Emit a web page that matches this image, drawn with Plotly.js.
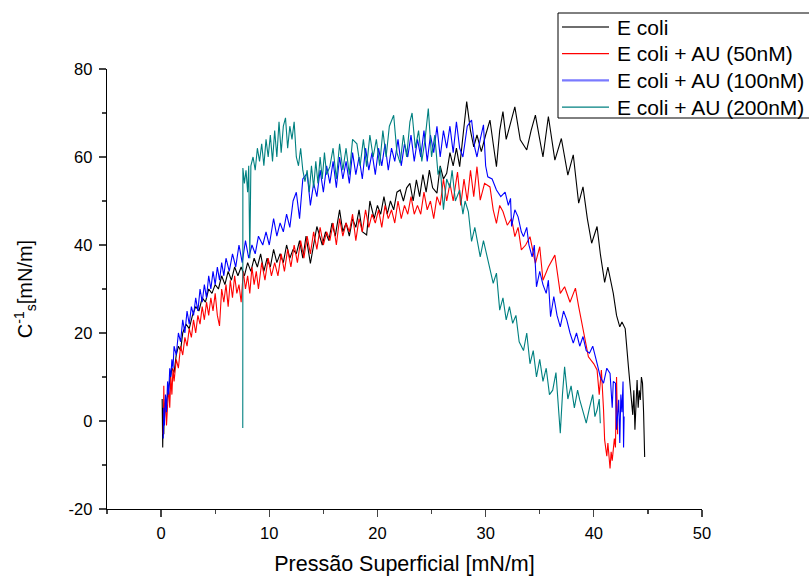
<!DOCTYPE html>
<html>
<head>
<meta charset="utf-8">
<script src="https://cdn.plot.ly/plotly-3.0.1.min.js"></script>
<style>html,body{margin:0;padding:0;background:#fff;}#chart{width:809px;height:576px;}</style>
</head>
<body>
<div id="chart"></div>
<script>
// ---- Data ----
const seriesNames = ["E coli", "E coli + AU (50nM)", "E coli + AU (100nM)", "E coli + AU (200nM)"];
const seriesColors = ["#000000", "#ff0000", "#0000ff", "#008080"];

const ecoliX = [0.1,0.15,0.2,0.25,0.3,0.4,0.6,0.8,1.0,1.2,1.4,1.6,1.8,2.0,2.3,2.6,2.9,3.2,3.5,3.8,4.1,4.4,4.7,5.0,5.3,5.6,5.9,6.2,6.5,6.8,7.1,7.4,7.7,8.0,8.3,8.6,8.9,9.2,9.5,9.8,10.1,10.4,10.7,11.0,11.3,11.6,11.9,12.2,12.5,12.8,13.1,13.4,13.8,14.4,14.9,15.2,15.5,15.8,16.1,16.5,16.8,17.1,17.4,17.7,18.0,18.3,18.6,19.0,19.3,19.7,20.0,20.3,20.6,20.9,21.2,21.5,21.8,22.1,22.4,22.7,23.0,23.3,23.6,23.9,24.2,24.5,24.8,25.1,25.5,25.8,26.1,26.4,26.7,27.0,27.3,27.6,27.9,28.25,28.6,28.9,29.2,29.6,30.0,30.4,30.7,31.0,31.3,31.6,31.9,32.2,32.7,33.2,33.8,34.2,34.6,35.0,35.3,35.8,36.1,36.4,37.0,37.6,38.1,38.6,39.0,39.4,39.8,40.3,40.6,41.0,41.3,41.8,42.1,42.4,42.6,42.9,43.2,43.4,43.6,43.7,43.8,44.0,44.1,44.2,44.3,44.4,44.5,44.6,44.7];
const ecoliY = [5,-6,3,-3,4,2,6,9,12,11,15,17,16,20,22,21,24,26,25,28,27,30,29,31,30,33,31,34,32,35,33,35,33,36,34,37,35,38,34,37,35,39,36,38,36,40,37,39,38,41,37,42,35.8,44.2,40,43,41,45,42,48,43,45,42,46,44,48,43,42.3,50,46,49,47,51,47,50,48,52,52.5,50,53,54,50,54.8,51,56,52,57,53,51.8,58,55,56.3,61,58,62,57.8,64,72.6,66,62.3,65,61.2,65,68.4,63,57.8,66,70.3,64,67,71.4,63.9,61.6,66,69.5,64,60,69.2,64,59.3,64.2,55.9,60.5,49.5,53.2,46,40.4,44.2,38,31.5,35,29,24,21.4,22.5,21,12.3,6,1.4,7,-2,9.3,3,7,4.8,10,8.6,2,-8.2];

const au50X = [0.2,0.25,0.3,0.4,0.5,0.6,0.7,0.8,0.9,1.0,1.1,1.2,1.4,1.6,1.8,2.0,2.2,2.4,2.6,2.8,3.0,3.2,3.4,3.6,3.8,4.0,4.2,4.4,4.6,4.8,5.0,5.2,5.4,5.6,5.8,6.0,6.2,6.4,6.6,6.8,7.0,7.2,7.4,7.6,7.8,8.0,8.2,8.4,8.6,8.8,9.0,9.3,9.6,9.9,10.2,10.5,10.8,11.1,11.4,11.7,12.0,12.3,12.6,12.9,13.2,13.5,13.8,14.1,14.4,14.7,15.0,15.3,15.6,15.9,16.2,16.5,16.8,17.1,17.4,17.7,18.0,18.3,18.6,18.9,19.2,19.5,19.8,20.1,20.4,20.7,21.0,21.3,21.6,21.9,22.2,22.5,22.8,23.1,23.4,23.7,24.0,24.3,24.6,24.9,25.2,25.5,25.8,26.1,26.4,26.7,27.0,27.4,27.7,28.0,28.3,28.6,28.9,29.2,29.5,29.9,30.4,30.7,31.0,31.3,31.6,32.0,32.4,32.7,33.0,33.3,33.7,34.1,34.6,35.0,35.3,35.8,36.4,36.9,37.3,37.8,38.3,38.6,38.9,39.2,39.5,40.0,40.3,40.5,40.7,40.9,41.0,41.2,41.3,41.5,41.6,41.7,41.9,42.0,42.1,42.2];
const au50Y = [-3,8,0,5,-1,4,8,3,10,6,12,9,14,12,17,15,19,17,21,19,23,20,24,22,26,23,27,24,28,25,29,24,21.6,30,27,31,26,32,28,33,29,31,27,34,30,33,29,35,31,34,30,36,32,37,33,36,33,38,34,39,35,40,36,41,37,42,38,43,39,44,40,43,41,45,40,46,42,45,43,47,41,46,43,48,44,47,45,48,44,49,46,48,45,50,46,49,47,51,47,49,47,52,48,50,46,51,49,55,50,54,50,56.6,49,55,50,57,51,57.8,50.2,54,53.2,48,44.9,49,47.6,44.5,46,41.9,44,38.9,40,41.9,35.8,39.6,32,35,37.7,29,30.5,27,30.2,26,22.2,18,14.6,13,11.6,6,11.6,2.5,-4.3,-8,-5,-10.8,-7,-9,-4,-6,10,-3];

const au100X = [0.2,0.25,0.3,0.4,0.5,0.6,0.7,0.8,0.9,1.0,1.1,1.2,1.4,1.6,1.8,2.0,2.2,2.4,2.6,2.8,3.0,3.2,3.4,3.6,3.8,4.0,4.2,4.4,4.6,4.8,5.0,5.2,5.4,5.6,5.8,6.0,6.3,6.6,6.9,7.2,7.5,7.8,8.1,8.4,8.7,9.0,9.4,9.7,10.0,10.4,10.7,11.0,11.3,11.6,11.9,12.2,12.5,12.8,13.1,13.5,13.8,14.1,14.4,14.7,15.0,15.3,15.6,15.9,16.2,16.5,16.8,17.1,17.4,17.7,18.0,18.3,18.6,18.9,19.2,19.5,19.8,20.1,20.4,20.7,21.0,21.3,21.6,21.9,22.2,22.5,22.8,23.1,23.4,23.7,24.0,24.3,24.6,24.9,25.2,25.5,25.8,26.1,26.4,26.7,27.0,27.3,27.6,27.9,28.3,28.7,29.0,29.2,29.5,29.8,30.0,30.2,30.6,31.0,31.4,31.8,32.1,32.3,32.4,32.7,33.0,33.3,33.5,33.8,34.0,34.3,34.5,34.7,35.0,35.3,35.6,35.8,36.0,36.3,36.6,36.9,37.2,37.5,37.8,38.1,38.4,38.7,39.0,39.3,39.6,39.9,40.3,40.6,40.9,41.2,41.5,41.7,41.8,42.0,42.1,42.3,42.4,42.5,42.6,42.7,42.75,42.8];
const au100Y = [-4,3,-1,6,2,9,6,12,10,14,12,17,15,20,18,23,20,25,22,26,24,28,25,30,27,31,28,33,30,34,31,35,32,36,33,37,34,38,35,40,36,41,37,40,38,42,40,43,40,46,42,45,43,47,44,50,52,46,55,56.3,49,54,51,57,52,58,54,59,53,60,55,59,54,61,56,60,55,62,57,61,56,62,58,63,57,62,59,64,58,63,60,65,59,64,60,66,59,65,61,67,60,66,62,67,61,68,62,60,67,68.4,62,60,64,67.3,58,55.5,55,52.5,51,52,49,50.6,44.2,48,46.4,43,41.9,44,40,37.3,40,30.5,34,31,29,32,23.7,28.3,24,21.4,25,23,20,17.7,20,17,19.2,16,15.4,17,13.1,10,8.6,12,10.8,3,9,8.6,-2,4.8,-5,6,2,9,-6,1];

const au200X = [7.55,7.56,7.7,7.85,8.0,8.1,8.2,8.3,8.5,8.7,8.9,9.1,9.3,9.5,9.7,9.9,10.1,10.3,10.5,10.7,10.9,11.1,11.3,11.5,11.7,11.9,12.1,12.3,12.5,12.7,12.9,13.1,13.3,13.5,13.7,13.9,14.1,14.3,14.5,14.7,14.9,15.1,15.3,15.6,15.9,16.2,16.5,16.8,17.1,17.4,17.7,18.1,18.4,18.7,19.0,19.3,19.6,19.9,20.2,20.5,20.8,21.1,21.5,21.8,22.1,22.4,22.7,23.0,23.2,23.5,23.8,24.1,24.4,24.7,25.0,25.3,25.6,25.8,26.1,26.4,26.7,26.9,27.2,27.6,27.9,28.1,28.4,28.7,29.0,29.5,29.8,30.1,30.4,30.7,31.0,31.3,31.6,31.9,32.2,32.5,32.8,33.1,33.5,33.8,34.1,34.4,34.7,35.0,35.3,35.6,35.9,36.2,36.5,36.9,37.1,37.3,37.6,37.9,38.2,38.5,38.7,39.0,39.3,39.6,39.9,40.1,40.3,40.5,40.6];
const au200Y = [-1.6,57.5,54,57,52,58,37,58,60,57,62,59,63,58,64,60,65,59,66,60,68,61,67,68.9,62,67,64,68,60,58,62,57,54.4,57,52,58,53,59,54,60,55,61,56,57.8,62,55,63,57,62,56,64,63,58,64,57.8,65,60,64,58,66,60,67,69.5,61,58.6,65,60,68,70,62,66,59,64,71,60,65,56,57.8,48,55,53,57,50,52.5,47,50,47.6,40.8,44,37.3,41,38,35,31.3,33.6,25.2,28,23,26,22.2,24,18,16,20,13,16,10,14,9,12,6,7,11,-2.8,6,12.3,5,8,3,7,4.8,2,-0.5,3,6,1,2.5,5,-0.5];

const xTickVals = [0,10,20,30,40,50];
const xTickText = ["0","10","20","30","40","50"];
const yTickVals = [-20,0,20,40,60,80];
const yTickText = ["-20","0","20","40","60","80"];

// ---- Chart ----
const W = 809, H = 576;
const M = {l: 107, r: 107, t: 69, b: 67};
const PW = W - M.l - M.r, PH = H - M.t - M.b;
const px2paperX = p => (p - M.l) / PW;
const px2paperY = p => (H - M.b - p) / PH;

const xs = [ecoliX, au50X, au100X, au200X];
const ys = [ecoliY, au50Y, au100Y, au200Y];
const traces = seriesNames.map((name, i) => ({
  type: "scatter", mode: "lines", name: name, showlegend: false,
  x: xs[i], y: ys[i],
  line: {color: seriesColors[i], width: 1.1}
}));

const fontFam = "Liberation Sans, Arial, sans-serif";

// Legend drawn as shapes + annotations (box partly cut at the right edge as in the reference)
const legendSampleColors = ["#6e6e6e", "#ff0000", "#7a7aff", "#008080"];
const legendSampleWidths = [2, 1.2, 2.2, 1.2];
const legBox = {left: 558, top: 13, right: 812, bottom: 118};
const rowY0 = 27, rowStep = 26.7, lineX0 = 562, lineX1 = 609, textX = 615;
const shapes = [{
  type: "rect", xref: "paper", yref: "paper",
  x0: px2paperX(legBox.left), x1: px2paperX(legBox.right),
  y0: px2paperY(legBox.bottom), y1: px2paperY(legBox.top),
  line: {color: "#000", width: 1}, fillcolor: "#fff", layer: "above"
}];
const annotations = [];
seriesNames.forEach((name, i) => {
  const yy = px2paperY(rowY0 + i * rowStep);
  shapes.push({
    type: "line", xref: "paper", yref: "paper",
    x0: px2paperX(lineX0), x1: px2paperX(lineX1), y0: yy, y1: yy,
    line: {color: legendSampleColors[i], width: legendSampleWidths[i]}, layer: "above"
  });
  annotations.push({
    xref: "paper", yref: "paper", x: px2paperX(textX), y: yy,
    xanchor: "left", yanchor: "middle", showarrow: false, text: name,
    font: {family: fontFam, size: 21, color: "#000"}
  });
});

const layout = {
  width: W, height: H,
  margin: {l: M.l, r: M.r, t: M.t, b: M.b, autoexpand: false},
  paper_bgcolor: "#fff", plot_bgcolor: "#fff",
  font: {family: fontFam, color: "#000", size: 16},
  showlegend: false,
  shapes: shapes, annotations: annotations,
  xaxis: {
    range: [-5, 50], tickvals: xTickVals, ticktext: xTickText,
    ticks: "outside", ticklen: 7, tickwidth: 1.2, ticklabelstandoff: 2,
    showline: true, linecolor: "#000", linewidth: 1.3, showgrid: false, zeroline: false,
    minor: {dtick: 5, tick0: 0, ticks: "outside", ticklen: 4, tickwidth: 1.2, showgrid: false},
    title: {text: "Pressão Superficial [mN/m]", font: {family: fontFam, size: 21.5}, standoff: 19},
    tickfont: {family: fontFam, size: 16.5}
  },
  yaxis: {
    range: [-20, 80], tickvals: yTickVals, ticktext: yTickText,
    ticks: "outside", ticklen: 7, tickwidth: 1.2, ticklabelstandoff: 3,
    showline: true, linecolor: "#000", linewidth: 1.3, showgrid: false, zeroline: false,
    minor: {dtick: 10, tick0: 0, ticks: "outside", ticklen: 4, tickwidth: 1.2, showgrid: false},
    title: {text: "C<sup>-1</sup><sub>s</sub>[mN/m]", font: {family: fontFam, size: 20}, standoff: 30},
    tickfont: {family: fontFam, size: 16.5}
  }
};

Plotly.newPlot("chart", traces, layout, {staticPlot: true, displayModeBar: false});
</script>
</body>
</html>
